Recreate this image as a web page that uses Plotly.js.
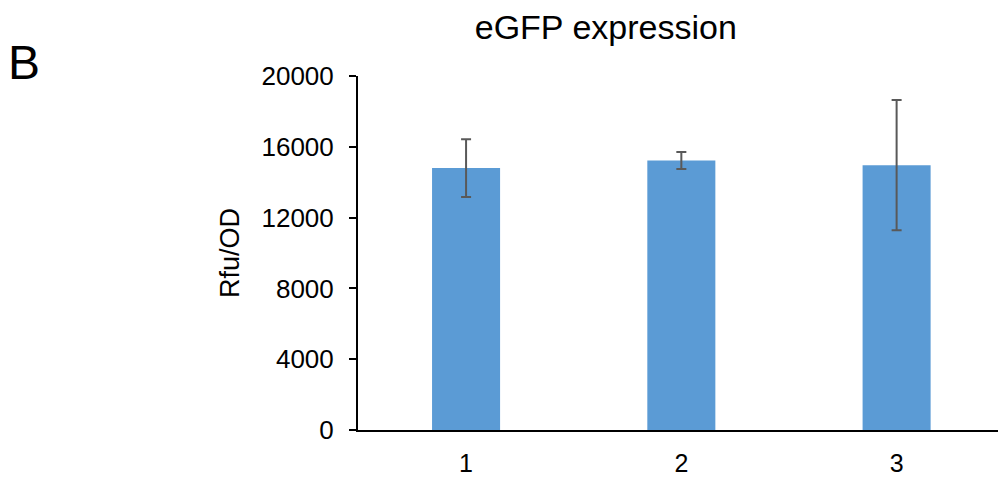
<!DOCTYPE html>
<html>
<head>
<meta charset="utf-8">
<script src="https://cdn.plot.ly/plotly-3.0.1.min.js"></script>
<style>html,body{margin:0;padding:0;background:#fff;overflow:hidden}#chart{width:998px;height:477px}</style>
</head>
<body>
<div id="chart"></div>
<script>
const categories = [1, 2, 3];
const categoryLabels = ["1", "2", "3"];
const values = [14800, 15220, 14960];
const errors = [1630, 480, 3680];
const yTicks = [0, 4000, 8000, 12000, 16000, 20000];
const yTickLabels = ["0", "4000", "8000", "12000", "16000", "20000"];

const font = "Arial, 'Liberation Sans', sans-serif";

Plotly.newPlot("chart", [{
  type: "bar",
  x: categories,
  y: values,
  width: 0.316,
  marker: {color: "#5B9BD5"},
  error_y: {type: "data", array: errors, visible: true, color: "#595959", thickness: 2, width: 5},
  hoverinfo: "none"
}], {
  width: 998, height: 477,
  margin: {l: 358, r: 0, t: 76, b: 47, pad: 0},
  paper_bgcolor: "#fff", plot_bgcolor: "#fff",
  font: {family: font, color: "#000"},
  showlegend: false,
  title: {text: "eGFP expression", font: {size: 34, family: font, color: "#000"},
          xref: "container", x: 0.607, xanchor: "center", yref: "container", y: 0.944, yanchor: "middle"},
  xaxis: {
    range: [0.498, 3.471], tickvals: categories, ticktext: categoryLabels,
    showline: true, linecolor: "#000", linewidth: 2, showgrid: false, zeroline: false,
    ticks: "", tickfont: {size: 25, family: font, color: "#000"}, ticklabelstandoff: 10
  },
  yaxis: {
    range: [0, 20000], tickvals: yTicks, ticktext: yTickLabels,
    showline: true, linecolor: "#000", linewidth: 2, showgrid: false, zeroline: false,
    ticks: "outside", ticklen: 7, tickwidth: 2, tickcolor: "#000",
    tickfont: {size: 26, family: font, color: "#000"}, ticklabelstandoff: 10,
    title: {text: "Rfu/OD", font: {size: 27, family: font, color: "#000"}, standoff: 14}
  },
  annotations: [{
    text: "B", xref: "paper", yref: "paper", x: -358/640, y: 1 + (76-62)/354,
    xanchor: "left", yanchor: "middle", showarrow: false, xshift: 6,
    font: {size: 48, family: font, color: "#000"}
  }]
}, {staticPlot: true});
</script>
</body>
</html>
